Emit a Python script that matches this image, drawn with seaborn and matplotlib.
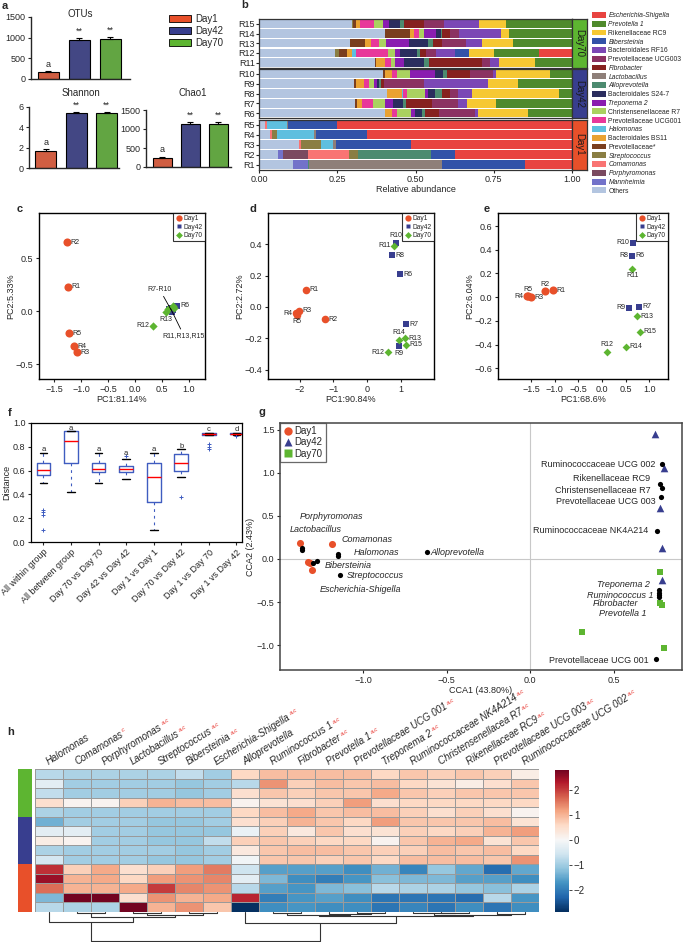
import matplotlib
matplotlib.use('Agg')
import matplotlib.pyplot as plt
import seaborn as sns
import pandas as pd
import numpy as np
from matplotlib.patches import Patch
from matplotlib.lines import Line2D
from matplotlib.colors import ListedColormap

# ---------------- data ----------------
days = ['Day1', 'Day42', 'Day70']
day_colors = ['#E8502A', '#383E8F', '#5DB531']

# a: alpha diversity
otus_mean = [165, 950, 970]
otus_err = [20, 45, 40]
shannon_mean = [1.70, 5.40, 5.42]
shannon_err = [0.20, 0.12, 0.08]
chao1_mean = [250, 1130, 1140]
chao1_err = [25, 60, 45]
alpha_marks = ['a', '**', '**']

# b: relative abundance (legend order)
taxa = ['Escherichia-Shigella', 'Prevotella 1', 'Rikenellaceae RC9', 'Bibersteinia',
        'Bacteroidales RF16', 'Prevotellaceae UCG003', 'Fibrobacter', 'Lactobacillus',
        'Alloprevotella', 'Bacteroidales S24-7', 'Treponema 2', 'Christensenellaceae R7',
        'Prevotellaceae UCG001', 'Halomonas', 'Bacteroidales BS11', 'Prevotellaceae*',
        'Streptococcus', 'Comamonas', 'Porphyromonas', 'Mannheimia', 'Others']
taxa_colors = ['#E84440', '#4F8A2C', '#F6C833', '#3252A8', '#7B47B5', '#8B3262', '#86211F',
               '#8E7F79', '#4D8B70', '#2B2D5E', '#8A1DB0', '#AAD160', '#E8389A', '#5EBFDF',
               '#E9A232', '#7A3E1E', '#8A7E43', '#F97473', '#7B4A60', '#7272C9', '#B3C5E0']
italic_names = {'Escherichia-Shigella', 'Prevotella 1', 'Bibersteinia', 'Fibrobacter',
                'Lactobacillus', 'Alloprevotella', 'Treponema 2', 'Halomonas', 'Streptococcus',
                'Comamonas', 'Porphyromonas', 'Mannheimia', 'Ruminococcus 1'}

abund_day70 = {
    'R15': {'Others': .296, 'Streptococcus': .003, 'Prevotellaceae*': .011, 'Bacteroidales BS11': .011,
            'Prevotellaceae UCG001': .045, 'Christensenellaceae R7': .030, 'Treponema 2': .019,
            'Bacteroidales S24-7': .035, 'Alloprevotella': .013, 'Fibrobacter': .062,
            'Prevotellaceae UCG003': .066, 'Bacteroidales RF16': .109, 'Rikenellaceae RC9': .088,
            'Prevotella 1': .210},
    'R14': {'Others': .402, 'Prevotellaceae*': .078, 'Bacteroidales BS11': .015, 'Prevotellaceae UCG001': .016,
            'Christensenellaceae R7': .014, 'Treponema 2': .039, 'Bacteroidales S24-7': .016,
            'Alloprevotella': .003, 'Fibrobacter': .026, 'Prevotellaceae UCG003': .027,
            'Bacteroidales RF16': .136, 'Rikenellaceae RC9': .023, 'Prevotella 1': .202},
    'R13': {'Others': .290, 'Prevotellaceae*': .048, 'Bacteroidales BS11': .021, 'Prevotellaceae UCG001': .024,
            'Christensenellaceae R7': .023, 'Treponema 2': .074, 'Bacteroidales S24-7': .059,
            'Alloprevotella': .016, 'Fibrobacter': .029, 'Prevotellaceae UCG003': .076,
            'Bacteroidales RF16': .052, 'Rikenellaceae RC9': .099, 'Prevotella 1': .188},
    'R12': {'Others': .243, 'Streptococcus': .013, 'Prevotellaceae*': .024, 'Bacteroidales BS11': .019,
            'Halomonas': .010, 'Prevotellaceae UCG001': .104, 'Christensenellaceae R7': .021,
            'Treponema 2': .016, 'Bacteroidales S24-7': .055, 'Alloprevotella': .009, 'Fibrobacter': .019,
            'Prevotellaceae UCG003': .032, 'Bacteroidales RF16': .061, 'Bibersteinia': .046,
            'Rikenellaceae RC9': .079, 'Prevotella 1': .144, 'Escherichia-Shigella': .106},
    'R11': {'Others': .370, 'Prevotellaceae*': .003, 'Bacteroidales BS11': .029, 'Prevotellaceae UCG001': .020,
            'Christensenellaceae R7': .011, 'Treponema 2': .029, 'Bacteroidales S24-7': .062,
            'Alloprevotella': .018, 'Fibrobacter': .168, 'Prevotellaceae UCG003': .027,
            'Bacteroidales RF16': .029, 'Rikenellaceae RC9': .112, 'Prevotella 1': .119},
}
abund_day42 = {
    'R10': {'Others': .395, 'Prevotellaceae*': .007, 'Bacteroidales BS11': .024, 'Prevotellaceae UCG001': .013,
            'Christensenellaceae R7': .043, 'Treponema 2': .080, 'Bacteroidales S24-7': .024,
            'Alloprevotella': .015, 'Fibrobacter': .074, 'Prevotellaceae UCG003': .072,
            'Bacteroidales RF16': .009, 'Rikenellaceae RC9': .172, 'Prevotella 1': .071},
    'R9': {'Others': .303, 'Prevotellaceae*': .006, 'Bacteroidales BS11': .027, 'Prevotellaceae UCG001': .016,
           'Christensenellaceae R7': .015, 'Treponema 2': .011, 'Bacteroidales S24-7': .006,
           'Alloprevotella': .005, 'Fibrobacter': .011, 'Prevotellaceae UCG003': .127,
           'Bacteroidales RF16': .205, 'Rikenellaceae RC9': .096, 'Prevotella 1': .172},
    'R8': {'Others': .407, 'Prevotellaceae*': .003, 'Bacteroidales BS11': .045, 'Halomonas': .005,
           'Prevotellaceae UCG001': .013, 'Christensenellaceae R7': .058, 'Treponema 2': .007,
           'Bacteroidales S24-7': .024, 'Alloprevotella': .021, 'Fibrobacter': .027,
           'Prevotellaceae UCG003': .026, 'Bacteroidales RF16': .043, 'Rikenellaceae RC9': .277,
           'Prevotella 1': .043},
    'R7': {'Others': .306, 'Prevotellaceae*': .007, 'Bacteroidales BS11': .016, 'Prevotellaceae UCG001': .035,
           'Christensenellaceae R7': .037, 'Treponema 2': .027, 'Bacteroidales S24-7': .032,
           'Alloprevotella': .011, 'Fibrobacter': .082, 'Prevotellaceae UCG003': .083,
           'Bacteroidales RF16': .030, 'Rikenellaceae RC9': .090, 'Prevotella 1': .244},
    'R6': {'Others': .402, 'Bacteroidales BS11': .024, 'Prevotellaceae UCG001': .015,
           'Christensenellaceae R7': .044, 'Treponema 2': .013, 'Bacteroidales S24-7': .024,
           'Alloprevotella': .007, 'Fibrobacter': .045, 'Prevotellaceae UCG003': .115,
           'Bacteroidales RF16': .011, 'Rikenellaceae RC9': .160, 'Prevotella 1': .140},
}
abund_day1 = {
    'R5': {'Others': .019, 'Comamonas': .005, 'Streptococcus': .003, 'Halomonas': .063,
           'Lactobacillus': .003, 'Bibersteinia': .156, 'Escherichia-Shigella': .751},
    'R4': {'Others': .035, 'Comamonas': .005, 'Streptococcus': .016, 'Halomonas': .119,
           'Lactobacillus': .006, 'Bibersteinia': .165, 'Escherichia-Shigella': .654},
    'R3': {'Others': .129, 'Comamonas': .004, 'Streptococcus': .065, 'Halomonas': .037,
           'Lactobacillus': .010, 'Bibersteinia': .240, 'Escherichia-Shigella': .515},
    'R2': {'Others': .062, 'Mannheimia': .014, 'Porphyromonas': .082, 'Comamonas': .131,
           'Streptococcus': .026, 'Alloprevotella': .234, 'Bibersteinia': .078,
           'Escherichia-Shigella': .373},
    'R1': {'Others': .110, 'Mannheimia': .046, 'Alloprevotella': .005, 'Lactobacillus': .423,
           'Bibersteinia': .265, 'Escherichia-Shigella': .151},
}

# c, d, e: PCoA coordinates for R1..R15
samples = ['R%d' % i for i in range(1, 16)]
sample_groups = ['Day1'] * 5 + ['Day42'] * 5 + ['Day70'] * 5
pc_c_x = [-1.25, -1.26, -1.07, -1.13, -1.22, 0.78, 0.66, 0.70, 0.68, 0.64, 0.70, 0.33, 0.57, 0.62, 0.72]
pc_c_y = [0.23, 0.65, -0.39, -0.33, -0.21, 0.05, 0.03, 0.01, -0.01, 0.02, 0.05, -0.14, -0.01, 0.02, 0.03]
pc_d_x = [-1.81, -1.25, -2.02, -2.10, -2.08, 0.98, 1.16, 0.74, 0.95, 0.86, 0.80, 0.62, 1.13, 0.95, 1.16]
pc_d_y = [0.11, -0.08, -0.025, -0.04, -0.05, 0.21, -0.11, 0.33, -0.25, 0.41, 0.39, -0.29, -0.20, -0.21, -0.24]
pc_e_x = [-1.04, -1.21, -1.50, -1.59, -1.57, 0.64, 0.78, 0.64, 0.57, 0.66, 0.64, 0.11, 0.74, 0.51, 0.80]
pc_e_y = [0.06, 0.05, 0.0, 0.01, 0.01, 0.35, -0.08, 0.35, -0.09, 0.46, 0.24, -0.46, -0.16, -0.42, -0.29]
lab_c = ['r', 'r', 'r', 'r', 'r', 'r', '', '', '', '', '', 'l', 'b', '', '']
lab_d = ['r', 'r', 'r', 'l', 'b', 'r', 'r', 'r', 'b', 'a', 'l', 'l', 'r', 'a', 'r']
lab_e = ['r', 'a', 'r', 'l', 'a', 'r', 'r', 'l', 'l', 'l', 'b', 'a', 'r', 'r', 'r']

# f: distance boxplots (summary stats)
f_groups = ['All within group', 'All between group', 'Day 70 vs Day 70', 'Day 42 vs Day 42',
            'Day 1 vs Day 1', 'Day 70 vs Day 42', 'Day 1 vs Day 70', 'Day 1 vs Day 42']
f_q1 = [0.56, 0.66, 0.59, 0.59, 0.34, 0.60, 0.903, 0.905]
f_med = [0.605, 0.845, 0.61, 0.615, 0.55, 0.66, 0.91, 0.91]
f_q3 = [0.66, 0.93, 0.66, 0.64, 0.66, 0.74, 0.915, 0.915]
f_lo = [0.50, 0.42, 0.50, 0.53, 0.10, 0.55, 0.90, 0.90]
f_hi = [0.75, 0.93, 0.75, 0.70, 0.75, 0.78, 0.92, 0.92]
f_fliers = [[0.27, 0.25, 0.23, 0.10], [], [], [0.72], [], [0.38], [0.82, 0.80, 0.78], [0.89]]
f_letters = ['a', 'a', 'a', 'a', 'a', 'b', 'c', 'd']

# g: CCA
g_day1_x = [-1.38, -1.19, -1.32, -1.31, -1.33]
g_day1_y = [0.19, 0.17, -0.05, -0.13, -0.03]
g_day42_x = [0.75, 0.80, 0.78, 0.79, 0.79]
g_day42_y = [1.45, 1.06, 0.59, 0.13, -0.24]
g_day70_x = [0.78, 0.78, 0.79, 0.31, 0.80]
g_day70_y = [-0.15, -0.51, -0.54, -0.85, -1.04]
g_taxa = ['Porphyromonas', 'Lactobacillus', 'Comamonas', 'Halomonas', 'Bibersteinia',
          'Streptococcus', 'Escherichia-Shigella', 'Alloprevotella',
          'Ruminococcaceae UCG 002', 'Rikenellaceae RC9', 'Christensenellaceae R7',
          'Prevotellaceae UCG 003', 'Ruminococcaceae NK4A214', 'Treponema 2', 'Ruminococcus 1',
          'Fibrobacter', 'Prevotella 1', 'Prevotellaceae UCG 001']
g_taxa_x = [-1.37, -1.37, -1.15, -1.15, -1.28, -1.14, -1.30, -0.62,
            0.79, 0.78, 0.79, 0.785, 0.76, 0.77, 0.77, 0.77, 0.77, 0.755]
g_taxa_y = [0.13, 0.11, 0.06, 0.04, -0.02, -0.19, -0.05, 0.08,
            1.10, 0.87, 0.83, 0.72, 0.33, -0.36, -0.39, -0.44, -0.42, -1.16]
g_label_x = [-1.38, -1.44, -1.13, -1.06, -1.23, -1.10, -1.26, -0.60,
             0.75, 0.72, 0.72, 0.75, 0.71, 0.72, 0.74, 0.65, 0.70, 0.71]
g_label_y = [0.49, 0.34, 0.23, 0.07, -0.07, -0.19, -0.36, 0.08,
             1.10, 0.93, 0.79, 0.67, 0.33, -0.30, -0.43, -0.52, -0.63, -1.18]

# h: z-scored heatmap (rows: Day70, Day42, Day1)
h_cols = ['Halomonas', 'Comamonas', 'Porphyromonas', 'Lactobacillus', 'Streptococcus',
          'Bibersteinia', 'Escherichia-Shigella', 'Alloprevotella', 'Ruminococcus 1',
          'Fibrobacter', 'Prevotella 1', 'Prevotellaceae UCG 001', 'Treponema 2',
          'Ruminococcaceae NK4A214', 'Christensenellacea R7', 'Rikenellaceae RC9',
          'Prevotellaceae UCG 003', 'Ruminococcaceae UCG 002']
h_sig = ['', 'c', 'a,c', 'a,c', 'a,c', 'a,c', 'a,c', '', 'a,c', 'a,c', 'a,c', 'a,c',
         'a,c', 'a,c', 'a,c', 'a,c', 'a,c', 'a,c']
h_day70 = [
    [-0.8, -0.9, -0.9, -0.9, -0.9, -0.7, -1.0, 0.6, 0.9, 0.9, 0.9, 0.9, 0.6, 0.8, 0.7, 0.8, 0.7, 0.2],
    [-0.3, -1.0, -1.0, -1.0, -1.0, -1.1, -1.0, -0.8, 1.3, 0.7, 0.9, 0.8, 0.9, 0.6, 0.4, 0.2, 0.5, 0.8],
    [-0.7, -1.0, -1.0, -1.0, -1.0, -1.1, -1.0, 0.5, 0.8, 0.7, 0.8, 0.8, 1.1, 0.8, 0.7, 0.8, 0.8, 0.8],
    [0.5, 0.1, 0.1, 0.7, 1.0, 0.9, 0.9, 0.1, 0.4, 0.5, 0.7, 1.2, 0.5, 0.6, 0.6, 0.6, 0.6, 0.6],
    [-0.9, -1.0, -1.0, -1.0, -1.0, -1.0, -1.0, 0.6, 0.9, 1.1, 0.8, 0.9, 0.9, 0.7, 0.5, 0.7, 0.5, 0.1],
]
h_day42 = [
    [-1.4, -1.0, -1.0, -1.0, -1.1, -1.1, -1.0, 0.5, 0.7, 1.0, 0.8, 0.6, 1.2, 0.8, 0.8, 0.8, 0.9, 0.4],
    [-0.3, -0.3, -1.0, -1.0, -1.1, -1.1, -1.1, -0.2, 0.7, 0.3, 0.8, 0.5, 0.4, 0.7, 0.6, 0.7, 1.0, 1.2],
    [0.2, 0.1, -1.0, -1.0, -1.1, -1.1, -0.7, 0.7, 0.8, 0.7, 0.6, 0.6, 0.1, 0.8, 1.0, 1.1, 0.4, 0.8],
    [-0.9, -1.0, -1.0, -1.0, -1.0, -1.1, -1.0, 0.3, 0.8, 0.9, 0.9, 0.8, 0.7, 0.7, 0.9, 0.8, 0.9, 0.6],
    [-0.5, -1.0, -1.0, -1.0, -1.1, -1.1, -1.0, -0.1, 0.8, 0.8, 0.7, 0.8, 0.6, 0.9, 0.9, 0.9, 0.8, 1.3],
]
h_day1 = [
    [2.1, 0.7, 1.1, 0.5, 0.7, 1.2, 1.5, -0.6, -1.6, -1.6, -1.6, -1.8, -1.4, -1.9, -1.1, -1.5, -2.2, -1.5],
    [2.5, 1.0, 1.1, 0.6, 1.2, 1.3, 1.4, -0.3, -1.3, -1.8, -2.0, -1.7, -1.2, -1.3, -1.3, -1.6, -1.6, -1.8],
    [1.6, 1.0, 1.0, 1.1, 2.0, 1.4, 1.3, -0.8, -1.6, -1.7, -1.3, -1.2, -0.8, -0.9, -0.9, -1.1, -1.2, -0.9],
    [-1.3, 2.8, 2.8, 0.5, 1.3, 1.0, 1.1, 2.2, -2.0, -1.7, -1.6, -1.8, -2.1, -2.1, -2.1, -2.2, -0.8, -1.7],
    [-0.8, -0.9, -0.9, 2.8, 1.0, 1.3, 0.8, -2.9, -1.8, -1.7, -1.8, -1.8, -2.1, -1.9, -2.1, -1.8, -2.1, -1.8],
]
# column dendrogram: (child a, child b, height); new node ids start at 18
h_merges = [(1, 2, 0.4), (3, 4, 0.5), (5, 6, 0.3), (19, 20, 1.2), (18, 21, 1.8), (0, 22, 3.3),
            (8, 9, 0.3), (11, 12, 0.4), (10, 25, 0.7), (24, 26, 0.9), (14, 15, 0.3),
            (13, 28, 0.5), (16, 17, 0.6), (29, 30, 0.9), (27, 31, 1.3), (7, 32, 3.9),
            (23, 33, 10.0)]

# ---------------- style ----------------
sns.set_style('ticks')
plt.rcParams['font.family'] = ['Liberation Sans', 'DejaVu Sans']
plt.rcParams['font.size'] = 6.5
plt.rcParams['axes.linewidth'] = 0.8
plt.rcParams['xtick.major.size'] = 2.5
plt.rcParams['ytick.major.size'] = 2.5
plt.rcParams['xtick.major.pad'] = 1.5
plt.rcParams['ytick.major.pad'] = 1.5

W, H = 685, 942
fig = plt.figure(figsize=(W / 100, H / 100), dpi=100)


def px_axes(x0, y0, x1, y1):
    """Add axes from pixel box (top-left origin)"""
    return fig.add_axes([x0 / W, 1 - y1 / H, (x1 - x0) / W, (y1 - y0) / H])


def px_text(x, y, s, **kw):
    fig.text(x / W, 1 - y / H, s, **kw)


# ---------------- a ----------------
def alpha_panel(ax, means, errs, yticks, xlim):
    sns.barplot(x=days, y=means, hue=days, palette=day_colors, legend=False, errorbar=None,
                width=0.68, edgecolor='black', linewidth=0.8, ax=ax)
    ax.errorbar(range(3), means, yerr=[[0, 0, 0], errs], fmt='none', ecolor='black',
                elinewidth=0.8, capsize=2.5, capthick=0.8)
    for i, m in enumerate(alpha_marks):
        ax.annotate(m, (i, means[i] + errs[i]), xytext=(0, 1.5), textcoords='offset points',
                    ha='center', va='bottom', fontsize=6.5)
    ax.set_xlim(xlim)
    ax.set_ylim(0, yticks[-1])
    ax.set_yticks(yticks)
    ax.set_xticks([])
    ax.set_xlabel('')
    ax.set_ylabel('')
    sns.despine(ax=ax)
    ax.spines['left'].set_linewidth(1)
    ax.spines['bottom'].set_linewidth(1)


ax_otu = px_axes(31, 17, 130, 79)
alpha_panel(ax_otu, otus_mean, otus_err, [0, 500, 1000, 1500], (-0.56, 2.63))
ax_sh = px_axes(29, 107, 119, 168)
alpha_panel(ax_sh, shannon_mean, shannon_err, [0, 2, 4, 6], (-0.55, 2.4))
ax_ch = px_axes(146, 110, 231, 167)
alpha_panel(ax_ch, chao1_mean, chao1_err, [0, 500, 1000, 1500], (-0.59, 2.45))
px_text(80, 14, 'OTUs', ha='center', va='center', fontsize=7)
px_text(81, 93, 'Shannon', ha='center', va='center', fontsize=7)
px_text(193, 93, 'Chao1', ha='center', va='center', fontsize=7)
fig.legend([Patch(facecolor=c, edgecolor='black', linewidth=0.6) for c in day_colors], days,
           loc='upper left', bbox_to_anchor=(169 / W, 1 - 14 / H), frameon=False, fontsize=7,
           handlelength=2.3, handleheight=0.8, labelspacing=0.2, handletextpad=0.4,
           borderpad=0, borderaxespad=0)

# ---------------- b ----------------
stack_order = taxa[::-1]
color_map = dict(zip(taxa, taxa_colors))
facets = [('Day70', abund_day70, day_colors[2], 19, 67.5),
          ('Day42', abund_day42, day_colors[1], 69, 118),
          ('Day1', abund_day1, day_colors[0], 119.5, 169.5)]
for k, (name, abund, scol, y0, y1) in enumerate(facets):
    ax = px_axes(259, y0, 572, y1)
    df = pd.DataFrame.from_dict(abund, orient='index').reindex(columns=stack_order).fillna(0)
    df = df.div(df.sum(axis=1), axis=0).iloc[::-1]
    df.plot.barh(stacked=True, ax=ax, color=[color_map[t] for t in stack_order],
                 width=0.86, legend=False, edgecolor='none')
    ax.set_xlim(0, 1)
    ax.set_ylim(-0.5, len(df) - 0.5)
    ax.set_ylabel('')
    ax.tick_params(axis='y', length=2, labelsize=6.5, pad=1)
    for sp in ax.spines.values():
        sp.set_color('#333333')
        sp.set_linewidth(0.9)
    ax.set_xticks([0, 0.25, 0.5, 0.75, 1.0])
    if k == 2:
        ax.set_xticklabels(['0.00', '0.25', '0.50', '0.75', '1.00'], fontsize=6.5)
        ax.set_xlabel('Relative abundance', fontsize=6.5, labelpad=1)
    else:
        ax.tick_params(axis='x', length=0, labelbottom=False)
    sax = px_axes(572, y0, 587, y1)
    sax.set_facecolor(scol)
    sax.set_xticks([])
    sax.set_yticks([])
    for sp in sax.spines.values():
        sp.set_color('#333333')
        sp.set_linewidth(0.9)
    sax.text(0.5, 0.5, name, rotation=270, ha='center', va='center', fontsize=7,
             color='#1a1a1a', transform=sax.transAxes)

leg_b = fig.legend([Patch(facecolor=c, edgecolor='none') for c in taxa_colors], taxa,
                   loc='upper left', bbox_to_anchor=(592 / W, 1 - 12 / H), frameon=False,
                   fontsize=4.9, handlelength=2.1, handleheight=0.95, labelspacing=0.22,
                   handletextpad=0.3, borderpad=0, borderaxespad=0)
for t in leg_b.get_texts():
    if t.get_text() in italic_names:
        t.set_style('italic')

# ---------------- c, d, e ----------------
pc_markers = ['o', 's', 'D']


def pcoa_panel(ax, xs, ys, labs, sizes, xlim, ylim, xticks, yticks, xlabel, ylabel):
    df = pd.DataFrame({'x': xs, 'y': ys, 'group': sample_groups, 'sample': samples})
    for g, c, m, s in zip(days, day_colors, pc_markers, sizes):
        sub = df[df['group'] == g]
        sns.scatterplot(data=sub, x='x', y='y', color=c, marker=m, s=s, linewidth=0,
                        ax=ax, legend=False, zorder=3)
    offs = {'r': ((2.5, 0), 'left', 'center'), 'l': ((-2.5, 0), 'right', 'center'),
            'a': ((0, 2.5), 'center', 'bottom'), 'b': ((0, -2.5), 'center', 'top')}
    for s, x, y, p in zip(samples, xs, ys, labs):
        if p:
            off, ha, va = offs[p]
            ax.annotate(s, (x, y), xytext=off, textcoords='offset points', ha=ha, va=va,
                        fontsize=5)
    ax.set_xlim(xlim)
    ax.set_ylim(ylim)
    ax.set_xticks(xticks)
    ax.set_yticks(yticks)
    ax.set_xlabel(xlabel, fontsize=6.5, labelpad=1)
    ax.set_ylabel(ylabel, fontsize=6.5, labelpad=0)
    for sp in ax.spines.values():
        sp.set_color('black')
        sp.set_linewidth(1)
    handles = [Line2D([], [], marker=m, color='none', markerfacecolor=c, markeredgecolor='none',
                      markersize=ms) for m, c, ms in zip(pc_markers, day_colors, [4.5, 3.5, 3.5])]
    leg = ax.legend(handles, days, loc='upper right', fontsize=4.8, frameon=True, fancybox=False,
                    edgecolor='black', borderaxespad=0, handletextpad=0.2, labelspacing=0.2,
                    borderpad=0.35, handlelength=1.0)
    leg.get_frame().set_linewidth(0.8)


ax_c = px_axes(39, 213, 205, 379)
pcoa_panel(ax_c, pc_c_x, pc_c_y, lab_c, [34, 22, 18], (-1.78, 1.30), (-0.64, 0.925),
           [-1.5, -1.0, -0.5, 0.0, 0.5, 1.0], [-0.5, 0.0, 0.5], 'PC1:81.14%', 'PC2:5.33%')
grp_a = (np.mean(pc_c_x[6:10]), np.mean(pc_c_y[6:10]))
grp_b = (np.mean([pc_c_x[10], pc_c_x[12], pc_c_x[14]]), np.mean([pc_c_y[10], pc_c_y[12], pc_c_y[14]]))
ax_c.annotate('R7-R10', grp_a, xytext=(0.46, 0.17), ha='center', va='bottom', fontsize=5,
              arrowprops=dict(arrowstyle='-', lw=0.6, color='black', shrinkA=0, shrinkB=0))
ax_c.annotate('R11,R13,R15', grp_b, xytext=(0.91, -0.2), ha='center', va='top', fontsize=5,
              arrowprops=dict(arrowstyle='-', lw=0.6, color='black', shrinkA=0, shrinkB=0))

ax_d = px_axes(268, 213, 434, 379)
pcoa_panel(ax_d, pc_d_x, pc_d_y, lab_d, [30, 16, 16], (-2.94, 1.99), (-0.46, 0.60),
           [-2, -1, 0, 1], [-0.4, -0.2, 0.0, 0.2, 0.4], 'PC1:90.84%', 'PC2:2.72%')

ax_e = px_axes(498, 213, 668, 379)
pcoa_panel(ax_e, pc_e_x, pc_e_y, lab_e, [34, 16, 16], (-2.2, 1.40), (-0.69, 0.71),
           [-1.5, -1.0, -0.5, 0.0, 0.5, 1.0], [-0.6, -0.4, -0.2, 0.0, 0.2, 0.4, 0.6],
           'PC1:68.6%', 'PC2:6.04%')

# ---------------- f ----------------
ax_f = px_axes(31, 423, 242, 542)
box_blue = '#3F5CC0'
stats = [dict(med=m, q1=a, q3=b, whislo=lo, whishi=hi, fliers=fl)
         for m, a, b, lo, hi, fl in zip(f_med, f_q1, f_q3, f_lo, f_hi, f_fliers)]
ax_f.bxp(stats, positions=range(1, 9), widths=0.5, capwidths=0.28,
         boxprops=dict(color=box_blue, lw=1), medianprops=dict(color='red', lw=1),
         whiskerprops=dict(color=box_blue, lw=0.8, ls=(0, (2.5, 3.5))),
         capprops=dict(color='black', lw=1),
         flierprops=dict(marker='+', markeredgecolor=box_blue, markersize=3.5, mew=0.7))
for i, (hi, fl, let) in enumerate(zip(f_hi, f_fliers, f_letters)):
    top = max([hi] + fl)
    ax_f.text(i + 1, top + 0.012, let, ha='center', va='baseline', fontsize=5.5)
ax_f.set_xlim(0.55, 8.2)
ax_f.set_ylim(0, 1)
ax_f.set_yticks([0, 0.2, 0.4, 0.6, 0.8, 1.0])
ax_f.set_xticks(range(1, 9))
ax_f.set_xticklabels(f_groups, rotation=45, ha='right', rotation_mode='anchor', fontsize=6.5)
ax_f.set_ylabel('Distance', fontsize=6.5, labelpad=1)
for sp in ax_f.spines.values():
    sp.set_color('black')
    sp.set_linewidth(0.9)

# ---------------- g ----------------
ax_g = px_axes(280, 423, 682, 670)
ax_g.axhline(0, color='#c8c8c8', lw=0.8, zorder=0)
ax_g.axvline(0, color='#c8c8c8', lw=0.8, zorder=0)
for xs, ys, c, m, s in [(g_day1_x, g_day1_y, day_colors[0], 'o', 26),
                        (g_day42_x, g_day42_y, day_colors[1], '^', 30),
                        (g_day70_x, g_day70_y, '#5DB531', 's', 20)]:
    sns.scatterplot(x=xs, y=ys, color=c, marker=m, s=s, linewidth=0, ax=ax_g, zorder=3)
sns.scatterplot(x=g_taxa_x, y=g_taxa_y, color='black', s=14, linewidth=0, ax=ax_g, zorder=4)
for name, lx, ly in zip(g_taxa, g_label_x, g_label_y):
    ax_g.text(lx, ly, name, ha='left' if lx < 0 else 'right', va='center', fontsize=6.5,
              style='italic' if name in italic_names else 'normal')
ax_g.set_xlim(-1.50, 0.91)
ax_g.set_ylim(-1.29, 1.58)
ax_g.set_xticks([-1.0, -0.5, 0.0, 0.5])
ax_g.set_yticks([-1.0, -0.5, 0.0, 0.5, 1.0, 1.5])
ax_g.set_xlabel('CCA1 (43.80%)', fontsize=6.5, labelpad=1)
ax_g.set_ylabel('CCA2 (2.43%)', fontsize=6.5, labelpad=1)
for sp in ax_g.spines.values():
    sp.set_color('#444444')
    sp.set_linewidth(1.1)
g_handles = [Line2D([], [], marker=m, color='none', markerfacecolor=c, markeredgecolor='none',
                    markersize=6) for m, c in zip(['o', '^', 's'], day_colors)]
leg_g = ax_g.legend(g_handles, days, loc='upper left', fontsize=7, frameon=True, fancybox=False,
                    edgecolor='#444444', borderaxespad=0, handletextpad=0.2, labelspacing=0.15,
                    borderpad=0.3, handlelength=1.0)
leg_g.get_frame().set_linewidth(0.9)

# ---------------- h ----------------
heat = np.array(h_day70 + h_day42 + h_day1)
ax_h = px_axes(35, 769, 539, 912)
cax = px_axes(555, 770, 569, 912)
sns.heatmap(heat, cmap='RdBu_r', vmin=-2.9, vmax=2.8, center=0, linewidths=0.5,
            linecolor='#9a9a9a', cbar_ax=cax, xticklabels=False, yticklabels=False, ax=ax_h)
cbar = ax_h.collections[0].colorbar
cbar.outline.set_visible(False)
cbar.set_ticks([2, 1, 0, -1, -2])
cbar.set_ticklabels(['2', '1', '0', '\u22121', '\u22122'])
cax.tick_params(labelsize=7, length=2, width=0.6)

# row annotation
row_codes = [[2]] * len(h_day70) + [[1]] * len(h_day42) + [[0]] * len(h_day1)
rax = px_axes(17.5, 769, 31.5, 912)
rax.imshow(np.array(row_codes), cmap=ListedColormap(day_colors), aspect='auto', vmin=-0.5, vmax=2.5,
           interpolation='nearest')
rax.axis('off')

# column dendrogram
dax = px_axes(35, 912, 539, 942)
node_x = {i: i + 0.5 for i in range(len(h_cols))}
node_h = {i: 0.0 for i in range(len(h_cols))}
for k, (a, b, hgt) in enumerate(h_merges):
    nid = len(h_cols) + k
    xa, xb = node_x[a], node_x[b]
    dax.plot([xa, xa, xb, xb], [node_h[a], hgt, hgt, node_h[b]], color='#333333', lw=0.8)
    node_x[nid] = (xa + xb) / 2
    node_h[nid] = hgt
dax.set_xlim(0, len(h_cols))
dax.set_ylim(10.4, 0)
dax.axis('off')

# column labels with red superscripts
h_rot = 32
renderer = fig.canvas.get_renderer()
theta = np.deg2rad(h_rot)
for i, (name, sig) in enumerate(zip(h_cols, h_sig)):
    ax_h.text(i + 0.5, -0.4, name, rotation=h_rot, rotation_mode='anchor', ha='left',
              va='baseline', fontsize=7, style='italic')
    if sig:
        tmp = fig.text(0, 0, name, fontsize=7, style='italic')
        w = tmp.get_window_extent(renderer).width
        tmp.remove()
        x0, y0 = ax_h.transData.transform((i + 0.5, -0.4))
        xs = x0 + (w + 1.5) * np.cos(theta) - 4 * np.sin(theta)
        ys = y0 + (w + 1.5) * np.sin(theta) + 4 * np.cos(theta)
        fx, fy = fig.transFigure.inverted().transform((xs, ys))
        fig.text(fx, fy, sig, rotation=h_rot, rotation_mode='anchor', ha='left', va='baseline',
                 fontsize=4.5, color='#E8302A', style='italic')

# ---------------- panel letters ----------------
for lab, x, y in [('a', 5, 6), ('b', 245, 5), ('c', 20, 209), ('d', 253, 209), ('e', 487, 209),
                  ('f', 10, 413), ('g', 262, 412), ('h', 11, 732)]:
    px_text(x, y, lab, fontsize=8, fontweight='bold', ha='center', va='center')

fig.savefig('out.png', dpi=100, facecolor='white')
